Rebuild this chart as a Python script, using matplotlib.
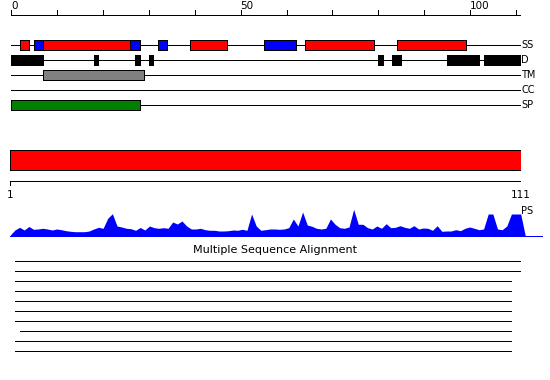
import numpy as np
import matplotlib
matplotlib.use('Agg')
import matplotlib.pyplot as plt

# track rows and their features (start, end) in residue units
track_names = ['SS', 'D', 'TM', 'CC', 'SP']
ss_helix = [(2, 4), (7, 26), (39, 47), (64, 79), (84, 99)]
ss_strand = [(5, 7), (26, 28), (32, 34), (55, 62)]
disorder = [(0, 7), (18, 19), (27, 28), (30, 31), (80, 81), (83, 85), (95, 102), (103, 111)]
transmem = [(7, 29)]
coiled = []
signal = [(0, 28)]

seq_len = 111
ruler_ticks = list(range(0, 111, 10))
ruler_labels = [0, 50, 100]

domains = [(1, 111)]

# conservation profile (PS), one value per residue, falls to 0 after the end
ps_scores = [1, 6, 8.7, 6, 9.5, 6.7, 7, 7.7, 7, 6,
             7, 6.3, 5.3, 4.7, 4.3, 4.3, 4.3, 5, 7, 8.7,
             7.7, 17.7, 22.3, 10, 9, 7.7, 7.3, 5.7, 8.5, 6,
             10, 8.3, 7.7, 8.3, 7.7, 14, 12, 15, 10, 7,
             7, 7.7, 6.3, 5.7, 5.7, 5, 5, 5.3, 6, 5.7,
             6.7, 5.7, 22, 10, 5.7, 6.3, 7, 7, 6.7, 7,
             8.3, 17, 10, 24, 11, 9.7, 7.7, 7, 7.7, 17,
             11.7, 8.3, 7.7, 9, 26.7, 11.7, 11.7, 8.3, 7, 10,
             7.7, 12.3, 8.3, 8.7, 10.3, 8.7, 7.7, 10.3, 7, 8,
             7.7, 5.7, 10.3, 4.7, 5, 5, 6.3, 5.3, 7.7, 9,
             7.7, 6.3, 7, 22, 22, 7, 6.3, 10, 22, 22,
             22, 0]

# multiple sequence alignment coverage
msa_starts = [2, 2, 2, 2, 2, 2, 2, 3, 2, 2]
msa_ends = [111, 111, 109, 109, 109, 109, 109, 109, 109, 109]

W, H = 550, 380
fig = plt.figure(figsize=(W / 100, H / 100), dpi=100)


def px_axes(x0, x1, y0, y1):
    ax = fig.add_axes([x0 / W, 1 - y1 / H, (x1 - x0) / W, (y1 - y0) / H])
    ax.set_axis_off()
    return ax


lw = 0.72  # one pixel

# --- top feature tracks ---
ax = px_axes(11, 520.7, 0, 120)
ax.set_xlim(0, seq_len)
ax.set_ylim(120, 0)

row_y = {name: 45 + 15 * i for i, name in enumerate(track_names)}
ax.hlines(list(row_y.values()), 0, seq_len, color='black', lw=lw, antialiased=False, zorder=1)
for name, y in row_y.items():
    ax.text(seq_len + 0.1, y, name, ha='left', va='center', fontsize=7, clip_on=False)

ruler_y = 14.7
ax.hlines(ruler_y, 0, seq_len, color='black', lw=lw, antialiased=False)
ax.vlines(ruler_ticks, ruler_y - 4.5, ruler_y, color='black', lw=lw, antialiased=False)
for t in ruler_labels:
    ax.text(t, 6, str(t), ha='left', va='center', fontsize=7.5)


def draw_feats(feats, row, color):
    for s, e in feats:
        ax.barh(row_y[row], e - s, left=s, height=10, color=color, edgecolor='black',
                linewidth=lw, antialiased=False, zorder=3)


draw_feats(ss_helix, 'SS', '#ff0000')
draw_feats(ss_strand, 'SS', '#0000ff')
draw_feats(disorder, 'D', '#000000')
draw_feats(transmem, 'TM', '#808080')
draw_feats(coiled, 'CC', '#ffff00')
draw_feats(signal, 'SP', '#008000')

# --- domain bar and lower ruler ---
ax2 = px_axes(10.3, 520.7, 140, 205)
ax2.set_xlim(1, seq_len)
ax2.set_ylim(205, 140)
for s, e in domains:
    ax2.barh(160.3, e - s, left=s, height=20, color='#ff0000', edgecolor='black',
             linewidth=lw, antialiased=False)
ax2.hlines(180.7, 1, seq_len, color='black', lw=lw, antialiased=False)
ax2.vlines([1, seq_len], 180.7, 185, color='black', lw=lw, antialiased=False)
for t in [1, seq_len]:
    ax2.text(t, 195, str(t), ha='center', va='center', fontsize=7.5, clip_on=False)

# --- PS profile ---
ax3 = px_axes(10.3, 542, 200, 236)
ax3.set_xlim(1, 1 + (542 - 10.3) / 4.64)
ax3.set_ylim(0, 36)
pos = np.arange(1, len(ps_scores) + 1)
ax3.fill_between(pos, 0, ps_scores, color='#0000ff', lw=0)
ax3.axhline(0, color='#0000ff', lw=lw, antialiased=False, clip_on=False)
ax3.text(seq_len + 0.1, 25, 'PS', ha='left', va='center', fontsize=7, clip_on=False)

# --- MSA ---
ax4 = px_axes(10.3, 520.7, 240, 365)
ax4.set_xlim(1, seq_len)
ax4.set_ylim(365, 240)
msa_y = 260.7 + 10 * np.arange(len(msa_starts))
ax4.hlines(msa_y, msa_starts, msa_ends, color='black', lw=lw, antialiased=False)
fig.text(0.5, 1 - 250 / H, 'Multiple Sequence Alignment', ha='center', va='center', fontsize=8)

fig.savefig('out.png', dpi=100)
